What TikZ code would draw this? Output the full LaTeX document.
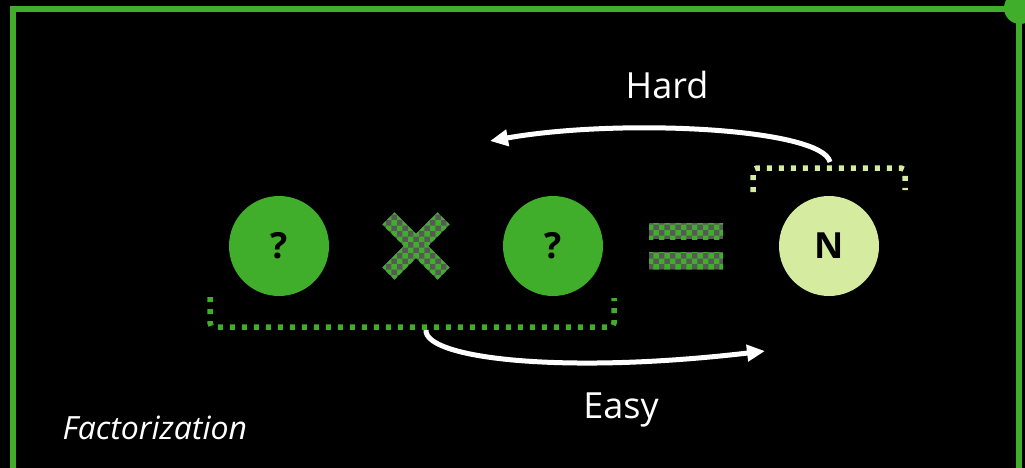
\documentclass[tikz,border=0pt]{standalone}
\usepackage{fontspec}
\setmainfont{Open Sans}
\usetikzlibrary{arrows.meta, patterns}

\definecolor{leafgreen}{RGB}{64,174,42}
\definecolor{palegreen}{RGB}{212,235,160}
\definecolor{checkgray}{RGB}{88,88,88}

\begin{document}
\begin{tikzpicture}[x=1pt, y=-1pt,
    factor/.style={circle, fill=leafgreen, minimum size=100pt, inner sep=0pt,
      font=\fontsize{36}{40}\selectfont\bfseries},
    product/.style={factor, fill=palegreen},
    opfill/.style={fill=checkgray, postaction={pattern=checkerboard, pattern color=leafgreen}},
    bracket/.style={line width=5.5pt, dash pattern=on 5pt off 7pt, rounded corners=4pt},
    flow/.style={white, line width=5pt, -{Triangle[length=18pt, width=16pt]}},
    caption/.style={text=white, font=\fontsize{36}{40}\selectfont}]

    % page and frame
    \fill[black] (0,0) rectangle (1025,468);
    \useasboundingbox (0,0) rectangle (1025,468);
    \draw[leafgreen, line width=6pt] (12.5,470) -- (12.5,9.5) -- (1019,9.5) -- (1019,470);
    \fill[leafgreen] (1020,8) circle (16pt);

    % the equation
    \node[factor] (p) at (279,246) {?};
    \node[factor] (q) at (553,246) {?};
    \node[product] (n) at (829,246) {N};

    \begin{scope}[shift={(416,246)}]
        \path[opfill, rotate=45] (-39,-8.5) rectangle (39,8.5);
        \path[opfill, rotate=-45] (-39,-8.5) rectangle (39,8.5);
    \end{scope}
    \path[opfill] (649,223) rectangle (723,239);
    \path[opfill] (649,252) rectangle (723,269);

    % brackets
    \draw[bracket, leafgreen] (210,297) |- (614,327) -- (614,298);
    \draw[bracket, palegreen] (753,192) |- (905,168) -- (905,190);

    % directions
    \coordinate (hard start) at (830,162);
    \coordinate (hard end) at (490,141);
    \coordinate (easy start) at (426,330);
    \coordinate (easy end) at (765,351);
    \draw[flow] (hard start) .. controls (822,128) and (620,118) .. (hard end);
    \draw[flow] (easy start) .. controls (424,358) and (560,375) .. (easy end);

    \node[caption] (hard) at (667,85) {Hard};
    \node[caption] (easy) at (621,410) {Easy};
    \node[text=white, anchor=west, font=\fontsize{32}{36}\selectfont\itshape] (title) at (59,428) {Factorization};

\end{tikzpicture}
\end{document}
